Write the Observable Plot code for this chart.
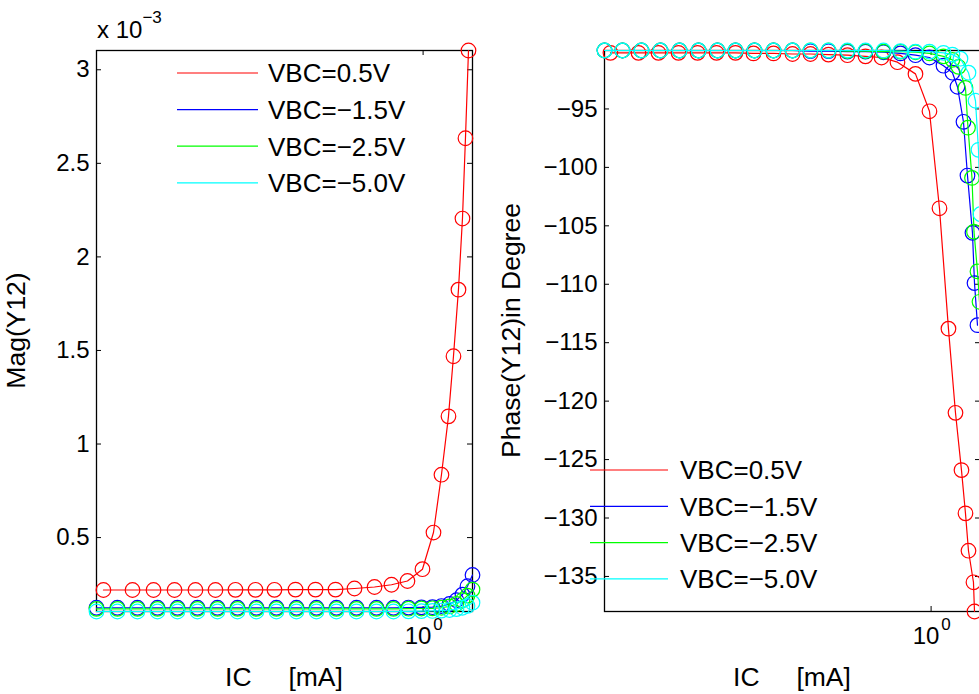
<!DOCTYPE html>
<html><head><meta charset="utf-8">
<script src="https://cdn.jsdelivr.net/npm/d3@7"></script>
<script src="https://cdn.jsdelivr.net/npm/@observablehq/plot@0.6"></script>
<style>
html,body{margin:0;padding:0;background:#fff;}
#wrap{position:relative;width:979px;height:694px;overflow:hidden;background:#fff;font-family:"Liberation Sans",Arial,Helvetica,sans-serif;}
#wrap svg{position:absolute;top:0;}
</style></head><body><div id="wrap"></div>
<script>
// ---------- data ----------
const seriesNames = ["VBC=0.5V", "VBC=\u22121.5V", "VBC=\u22122.5V", "VBC=\u22125.0V"];
const seriesColors = ["#ff0000", "#0000ff", "#00ff00", "#00ffff"];
const xLabel = "IC     [mA]";
const magLabel = "Mag(Y12)";
const phaseLabel = "Phase(Y12)in Degree";
const xTicks = [1];
const magTicks = [0.5, 1, 1.5, 2, 2.5, 3];           // in units of 1e-3
const phaseTicks = [-135, -130, -125, -120, -115, -110, -105, -100, -95];

// Magnitude panel (values in 1e-3 S)
const icMagRed = [0.1582,0.1871,0.2112,0.2384,0.2690,0.3019,0.3388,0.3803,0.4243,0.4790,0.5376,0.6034,0.6732,0.7556,0.8334,0.9138,0.9963,1.0617,1.1117,1.1576,1.1915,1.2263,1.2549,1.2768,1.2993];
const magRed = [0.220,0.220,0.220,0.220,0.220,0.220,0.221,0.221,0.221,0.222,0.222,0.222,0.228,0.236,0.248,0.268,0.331,0.527,0.836,1.148,1.469,1.825,2.205,2.634,3.103];
const icMagRev = [0.1520,0.1715,0.1925,0.2161,0.2425,0.2721,0.3054,0.3428,0.3825,0.4292,0.4818,0.5407,0.6067,0.6810,0.7643,0.8429,0.9192,0.9906,1.0556,1.1117,1.1643,1.2122,1.2549,1.2918,1.3297];
const magBlue = [0.125,0.125,0.125,0.125,0.125,0.125,0.125,0.125,0.125,0.125,0.125,0.125,0.125,0.125,0.125,0.125,0.126,0.127,0.128,0.134,0.145,0.165,0.195,0.240,0.300];
const magGreen = [0.119,0.119,0.119,0.119,0.119,0.119,0.119,0.119,0.119,0.119,0.119,0.119,0.119,0.119,0.119,0.119,0.120,0.121,0.122,0.125,0.132,0.145,0.165,0.190,0.222];
const magCyan = [0.105,0.105,0.105,0.105,0.105,0.105,0.105,0.105,0.105,0.105,0.105,0.105,0.105,0.105,0.105,0.105,0.106,0.107,0.108,0.110,0.113,0.118,0.125,0.135,0.152];

// Phase panel (degrees)
const icPhRed = [0.1573,0.1849,0.2075,0.2329,0.2600,0.2901,0.3236,0.3589,0.4029,0.4496,0.4987,0.5533,0.6172,0.6849,0.7512,0.8237,0.9138,0.9906,1.0495,1.1053,1.1510,1.1915,1.2193,1.2406,1.2768,1.2844];
const phRed = [-90.2,-90.2,-90.2,-90.2,-90.2,-90.2,-90.2,-90.25,-90.25,-90.3,-90.3,-90.35,-90.4,-90.5,-90.6,-91.0,-92.0,-95.2,-103.5,-113.8,-121.0,-125.9,-129.6,-132.8,-135.5,-138.0];
const icPhBlue = [0.1520,0.1686,0.1881,0.2099,0.2343,0.2615,0.2917,0.3236,0.3610,0.4029,0.4496,0.4987,0.5533,0.6172,0.6849,0.7599,0.8381,0.9138,0.9906,1.0740,1.1310,1.1643,1.2053,1.2335,1.2695,1.2844,1.3067];
const phBlue = [-90,-90,-90,-90,-90,-90,-90,-90,-90,-90,-90,-90.05,-90.05,-90.1,-90.1,-90.15,-90.25,-90.4,-90.6,-91.3,-91.9,-93.1,-96.1,-100.7,-105.6,-109.9,-113.5];
const icPhGreen = [0.1520,0.1686,0.1881,0.2099,0.2343,0.2615,0.2917,0.3236,0.3610,0.4029,0.4496,0.4987,0.5533,0.6172,0.6849,0.7599,0.8381,0.9138,0.9906,1.0740,1.1310,1.1710,1.2193,1.2372,1.2659,1.2807,1.3067,1.3220];
const phGreen = [-90,-90,-90,-90,-90,-90,-90,-90,-90,-90,-90,-90,-90,-90.05,-90.05,-90.1,-90.1,-90.15,-90.25,-90.5,-90.8,-91.4,-93.2,-96.6,-100.9,-105.5,-108.9,-111.5];
const icPhCyan = [0.1520,0.1686,0.1881,0.2099,0.2343,0.2615,0.2917,0.3236,0.3610,0.4029,0.4496,0.4987,0.5533,0.6172,0.6849,0.7599,0.8381,0.9138,0.9906,1.0740,1.1310,1.1846,1.2406,1.2918,1.3143,1.3297];
const phCyan = [-90,-90,-90,-90,-90,-90,-90,-90,-90,-90,-90,-90,-90,-90,-90,-90,-90.05,-90.1,-90.1,-90.2,-90.35,-90.7,-91.9,-94.3,-98.5,-104];

// ---------- drawing ----------
const FONT = '"Liberation Sans", Arial, Helvetica, sans-serif';
const H = 694, MT = 50, MB = 83;
const fmtMinus = d => (d < 0 ? "\u2212" + Math.abs(d) : String(d));

function panel({series, yTicks, yFmt, width, mLeft, mRight}) {
  const W = width - mLeft - mRight, FH = H - MT - MB;
  const allX = series.flatMap(s => s.ic), allY = series.flatMap(s => s.v);
  const marks = [
    Plot.frame({stroke: "black", strokeWidth: 1.3}),
    Plot.axisY(yTicks, {anchor: "left", tickSize: 0, tickPadding: 7, tickFormat: yFmt, fontSize: 24, label: null}),
    Plot.tickY(yTicks, {y: d => d, insetRight: W - 5, stroke: "black"}),
    Plot.tickY(yTicks, {y: d => d, insetLeft: W - 5, stroke: "black"}),
    Plot.tickX(xTicks, {x: d => d, insetTop: FH - 5, stroke: "black"}),
    Plot.tickX(xTicks, {x: d => d, insetBottom: FH - 5, stroke: "black"}),
    Plot.text(xTicks, {x: d => d, frameAnchor: "bottom", dy: 32, dx: -5, text: () => "10", fontSize: 24, fill: "black"}),
    Plot.text(xTicks, {x: d => d, frameAnchor: "bottom", dy: 18, dx: 15, text: d => String(Math.round(Math.log10(d))), fontSize: 17, fill: "black"})
  ];
  series.forEach(s => {
    const data = s.ic.map((c, i) => ({ic: c, v: s.v[i]}));
    marks.push(Plot.line(data, {x: "ic", y: "v", stroke: s.color, strokeWidth: 1.2}));
    marks.push(Plot.dot(data, {x: "ic", y: "v", stroke: s.color, fill: "none", r: 7.3, strokeWidth: 1.2}));
  });
  return Plot.plot({
    width, height: H, marginLeft: mLeft, marginRight: mRight, marginTop: MT, marginBottom: MB,
    x: {type: "log", domain: d3.extent(allX), axis: null},
    y: {domain: d3.extent(allY), axis: null},
    style: {fontFamily: FONT, background: "transparent", overflow: "visible", color: "black"},
    marks
  });
}

function addLegend(svg, x0, x1, xt, y0, dy) {
  seriesNames.forEach((name, i) => {
    const y = y0 + i * dy;
    svg.append("line").attr("x1", x0).attr("x2", x1).attr("y1", y).attr("y2", y)
      .attr("stroke", seriesColors[i]).attr("stroke-width", 1.2);
    svg.append("text").attr("x", xt).attr("y", y).attr("dy", "0.36em").attr("text-anchor", "start")
      .attr("font-size", 26).attr("font-family", FONT).attr("fill", "black").text(name);
  });
}
function addLabels(svg, yx, ytext, xc, xtext) {
  svg.append("text").attr("transform", `translate(${yx},330.5) rotate(-90)`).attr("text-anchor", "middle")
    .attr("dy", "0.36em").attr("font-size", 26.5).attr("font-family", FONT).attr("fill", "black").text(ytext);
  svg.append("text").attr("x", xc).attr("y", 676).attr("text-anchor", "middle").attr("dy", "0.36em")
    .style("white-space", "pre").attr("font-size", 26.5).attr("font-family", FONT).attr("fill", "black").text(xtext);
}

const wrap = document.getElementById("wrap");

// Left: magnitude
const left = panel({
  series: [
    {ic: icMagRed, v: magRed, color: seriesColors[0]},
    {ic: icMagRev, v: magBlue, color: seriesColors[1]},
    {ic: icMagRev, v: magGreen, color: seriesColors[2]},
    {ic: icMagRev, v: magCyan, color: seriesColors[3]}
  ],
  yTicks: magTicks, yFmt: d => String(d), width: 490, mLeft: 96, mRight: 18
});
left.style.left = "0px";
wrap.appendChild(left);
const ls = d3.select(left);
addLegend(ls, 177, 258, 268, 73, 36.6);
addLabels(ls, 15, magLabel, 284, xLabel);
const mult = ls.append("text").attr("x", 97).attr("y", 38).attr("text-anchor", "start")
  .attr("font-size", 24).attr("font-family", FONT).attr("fill", "black");
mult.append("tspan").text("x 10");
mult.append("tspan").attr("dy", -15).attr("font-size", 17).text("\u22123");

// Right: phase
const right = panel({
  series: [
    {ic: icPhRed, v: phRed, color: seriesColors[0]},
    {ic: icPhBlue, v: phBlue, color: seriesColors[1]},
    {ic: icPhGreen, v: phGreen, color: seriesColors[2]},
    {ic: icPhCyan, v: phCyan, color: seriesColors[3]}
  ],
  yTicks: phaseTicks, yFmt: fmtMinus, width: 500, mLeft: 104, mRight: 20
});
right.style.left = "500px";
wrap.appendChild(right);
const rs = d3.select(right);
addLegend(rs, 90, 168, 180, 470, 36.3);
addLabels(rs, 10, phaseLabel, 292, xLabel);
</script>
</body></html>
